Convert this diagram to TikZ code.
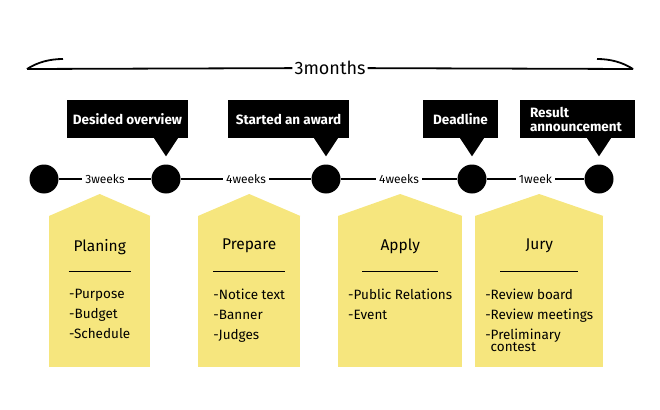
\documentclass[tikz,border=0pt]{standalone}
\usepackage{fontspec}
\setmainfont{Fira Sans}
\usetikzlibrary{positioning}
\definecolor{phaseyellow}{HTML}{F6E67E}

\begin{document}
\begin{tikzpicture}[
    x=1pt, y=-1pt,
    dot/.style={circle, fill=black, minimum size=29pt, inner sep=0pt},
    span/.style={fill=white, inner sep=3pt, font=\fontsize{12}{14}\selectfont},
    timeline/.style={line width=2.4pt},
    callout/.style={fill=black, text=white, inner sep=0pt, minimum height=38pt, align=left, font=\bfseries\fontsize{13.5}{14}\selectfont},
    phase/.style={fill=phaseyellow, anchor=north west, minimum height=151pt, inner sep=0pt},
    phasetitle/.style={font=\fontsize{15.5}{17}\selectfont},
    items/.style={anchor=north, align=left, inner sep=0pt, font=\fontsize{13.5}{13.5}\selectfont}
]
\useasboundingbox (0,0) rectangle (660,409);

% Period bracket
\node[fill=white, inner sep=2pt, font=\fontsize{18}{20}\selectfont] (months) at (330,68) {3months};
\coordinate (bl) at (27,69);
\coordinate (br) at (633,69);
\draw[line width=1.8pt] (bl) -- (months) -- (br);
\draw[line width=1.8pt] (bl) .. controls (38,62) and (50,59) .. (63,59);
\draw[line width=1.8pt] (br) .. controls (622,62) and (610,59) .. (597,59);

% Milestones
\node[dot] (d1) at (44,179) {};
\node[dot] (d2) at (166,179) {};
\node[dot] (d3) at (326,179) {};
\node[dot] (d4) at (472,179) {};
\node[dot] (d5) at (599,179) {};

\draw[timeline] (d1) -- node[span] {3weeks} (d2)
    -- node[span] {4weeks} (d3)
    -- node[span] {4weeks} (d4)
    -- node[span] {1week} (d5);

% Callouts
\node[callout, minimum width=121pt, align=center] (c2) at (127.5,119) {Desided overview};
\node[callout, minimum width=121pt, align=center] (c3) at (288.5,119) {Started an award};
\node[callout, minimum width=75pt, align=center] (c4) at (460.5,119) {Deadline};
\node[callout, minimum width=115pt, text width=95pt] (c5) at (577.5,119) {Result\\announcement};

\foreach \c/\d in {c2/d2, c3/d3, c4/d4, c5/d5}
    \fill ([xshift=-12pt]\c.south -| \d) -- ([yshift=8pt]\d.north) -- ([xshift=12pt]\c.south -| \d) -- cycle;

% Phases
\node[phase, minimum width=101pt] (p1) at (49,216) {};
\node[phase, minimum width=102pt] (p2) at (198,216) {};
\node[phase, minimum width=124pt] (p3) at (338,216) {};
\node[phase, minimum width=128pt] (p4) at (475,216) {};

\foreach \p in {p1, p2, p3, p4}
    \fill[phaseyellow] (\p.north west) -- ([yshift=22pt]\p.north) -- (\p.north east) -- cycle;

\node[phasetitle, below=19.5pt of p1.north] (t1) {Planing};
\node[phasetitle, below=19.5pt of p2.north] (t2) {Prepare};
\node[phasetitle, below=19.5pt of p3.north] (t3) {Apply};
\node[phasetitle, below=19.5pt of p4.north] (t4) {Jury};

\draw[thick] ([xshift=-31pt,yshift=-55pt]p1.north) -- ([xshift=31pt,yshift=-55pt]p1.north);
\draw[thick] ([xshift=-36pt,yshift=-55pt]p2.north) -- ([xshift=36pt,yshift=-55pt]p2.north);
\draw[thick] ([xshift=-38pt,yshift=-55pt]p3.north) -- ([xshift=38pt,yshift=-55pt]p3.north);
\draw[thick] ([xshift=-39pt,yshift=-55pt]p4.north) -- ([xshift=39pt,yshift=-55pt]p4.north);

\node[items, below=73pt of p1.north] (i1) {-Purpose\\[6.5pt]-Budget\\[6.5pt]-Schedule};
\node[items, below=73pt of p2.north] (i2) {-Notice text\\[6.5pt]-Banner\\[6.5pt]-Judges};
\node[items, below=73pt of p3.north] (i3) {-Public Relations\\[6.5pt]-Event};
\node[items, below=73pt of p4.north] (i4) {-Review board\\[6.5pt]-Review meetings\\[6.5pt]-Preliminary\\[-1.5pt]\phantom{-}contest};

\end{tikzpicture}
\end{document}
